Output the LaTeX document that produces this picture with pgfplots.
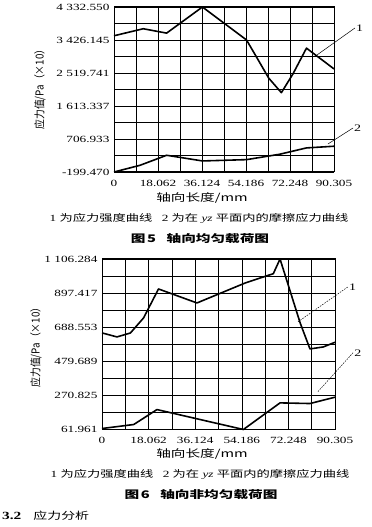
\documentclass[border=0pt]{standalone}
\usepackage{fontspec}
\setmainfont{Liberation Serif}[FakeStretch=1.4]
\newfontfamily\cjk{Noto Sans CJK SC}[FakeStretch=1.4]
\newfontfamily\cjkv{Noto Sans CJK SC}[FakeStretch=0.9]
\usepackage{pgfplots}
\pgfplotsset{compat=1.18}
\tikzset{lead/.style={black, line width=0.5pt}}
\pgfplotsset{
  mygrid/.style={
    scale only axis, clip=false,
    axis line style={black, line width=1pt},
    xmin=0, xmax=90.305,
    xtick={0,9.0305,18.062,27.093,36.124,45.155,54.186,63.217,72.248,81.2765,90.305},
    xticklabels={0,,18.062,,36.124,,54.186,,72.248,,90.305},
    xmajorgrids=true, ymajorgrids=true,
    major grid style={black, line width=0.6pt},
    tick style={black, line width=0.6pt},
    major tick length=2.5pt,
    tick align=inside,
    ticklabel style={font=\fontsize{9.5}{11}\selectfont},
    xticklabel style={yshift=-4.5pt},
    yticklabel style={xshift=-1pt},
  },
  curve/.style={black, line width=1.6pt, line join=round, no marks},
}
\begin{document}
\begin{tikzpicture}
\path[use as bounding box] (0,0) rectangle (372bp,527bp);
% ---------- Figure 5 ----------
\begin{axis}[mygrid, at={(114bp,355bp)}, anchor=south west,
  width=220bp, height=165bp,
  ymin=-199.470, ymax=4332.550,
  ytick={-199.470,253.73,706.933,1160.135,1613.337,2066.539,2519.741,2972.943,3426.145,3879.348,4332.550},
  yticklabels={-199.470,,706.933,,1~613.337,,2~519.741,,3~426.145,,4~332.550}]
\addplot[curve] coordinates {
 (0,3542) (12.0,3735) (21.6,3615) (36.3,4332.55) (54.4,3426)
 (59.0,2900) (63.5,2380) (68.7,1979) (73.5,2500) (79.0,3202) (90.305,2632)};
\addplot[curve] coordinates {
 (0,-199.47) (10.66,-16) (21.6,260) (36.3,104) (54.4,140)
 (68.0,288) (79.0,462) (90.305,508)};
\draw[lead] (axis cs:83.3,3014) -- (axis cs:98.9,3756)
  node[right, inner sep=1pt, font=\fontsize{10}{12}\selectfont] {1};
\draw[lead] (axis cs:87.8,569) -- (axis cs:98.1,1009)
  node[right, inner sep=1pt, font=\fontsize{10}{12}\selectfont] {2};
\end{axis}
% ---------- Figure 6 ----------
\begin{axis}[mygrid, at={(102bp,97.5bp)}, anchor=south west,
  width=233bp, height=170.5bp,
  ymin=61.961, ymax=1106.284,
  ytick={61.961,166.393,270.825,375.257,479.689,584.121,688.553,792.985,897.417,1001.85,1106.284},
  yticklabels={61.961,,270.825,,479.689,,688.553,,897.417,,1~106.284}]
\addplot[curve] coordinates {
 (0,653.5) (5.8,629) (11.0,653) (16.1,745) (21.9,922.7) (36.8,837)
 (55.5,959.4) (66.4,1016.5) (69.0,1106.28) (76.8,714.6) (80.6,555.5)
 (85.8,567.7) (90.305,596.3)};
\addplot[curve] coordinates {
 (0,68) (12.3,92.5) (21.3,184) (54.8,61.96) (69.0,225) (80.6,221) (90.305,259.8)};
\draw[lead, dash pattern=on 1.5pt off 1.2pt] (axis cs:75.97,721.5) -- (axis cs:95.3,935.3)
  node[right, inner sep=1pt, font=\fontsize{10}{12}\selectfont] {1};
\draw[lead, dash pattern=on 1.5pt off 1.2pt] (axis cs:83.7,294) -- (axis cs:97.3,532.2)
  node[right, inner sep=1pt, font=\fontsize{10}{12}\selectfont] {2};
\end{axis}
% ---------- texts ----------
\node[rotate=90, font=\cjkv\fontsize{11}{13}\selectfont] at (40bp,440bp) {应力值/Pa（×10）};
\node[font=\cjk\fontsize{10.5}{12}\selectfont] at (202bp,329bp) {轴向长度/mm};
\node[font=\fontsize{9.5}{11}\selectfont] at (199bp,308bp) {1 {\cjk 为应力强度曲线}\quad 2 {\cjk 为在} \textit{yz} {\cjk 平面内的摩擦应力曲线}};
\node[font=\cjk\bfseries\fontsize{10.5}{12}\selectfont] at (200bp,288bp) {图\,5\quad 轴向均匀载荷图};
\node[rotate=90, font=\cjkv\fontsize{11}{13}\selectfont] at (36bp,182bp) {应力值/Pa（×10）};
\node[font=\cjk\fontsize{10.5}{12}\selectfont] at (202bp,73bp) {轴向长度/mm};
\node[font=\fontsize{9.5}{11}\selectfont] at (200bp,52bp) {1 {\cjk 为应力强度曲线}\quad 2 {\cjk 为在} \textit{yz} {\cjk 平面内的摩擦应力曲线}};
\node[font=\cjk\bfseries\fontsize{10.5}{12}\selectfont] at (201bp,32bp) {图\,6\quad 轴向非均匀载荷图};
\node[anchor=west, inner sep=0pt] at (2bp,11bp) {\fontsize{11}{13}\selectfont\textbf{3.2}\hspace{12bp}{\cjk\fontsize{10}{12}\selectfont 应力分析}};
\end{tikzpicture}
\end{document}
